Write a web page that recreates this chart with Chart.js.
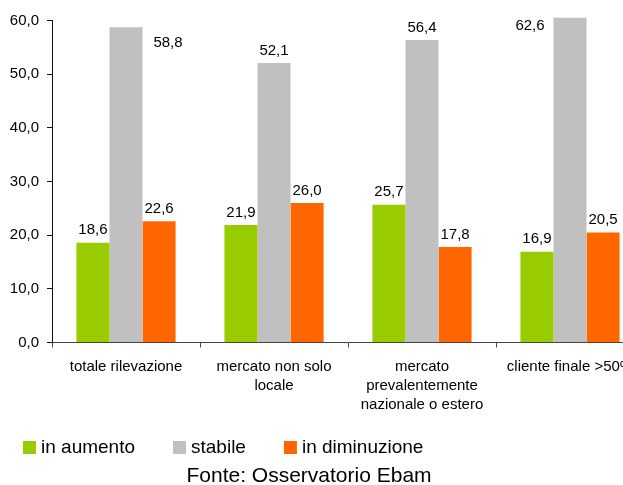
<!DOCTYPE html>
<html>
<head>
<meta charset="utf-8">
<script src="https://cdn.jsdelivr.net/npm/chart.js@4"></script>
<style>
  html, body { margin: 0; padding: 0; background: #fff; overflow: hidden; }
  #wrap { width: 623px; height: 485px; overflow: hidden; position: relative; }
  canvas { position: absolute; left: 0; top: 0; }
</style>
</head>
<body>
<div id="wrap"><canvas id="c" width="700" height="485" style="width:700px;height:485px"></canvas></div>
<script>
// Categories (multi-line labels) and series values (%)
const categories = [
  ['totale rilevazione'],
  ['mercato non solo', 'locale'],
  ['mercato', 'prevalentemente', 'nazionale o estero'],
  ['cliente finale >50%']
];
const inAumento = [18.6, 21.9, 25.7, 16.9];
const stabile = [58.8, 52.1, 56.4, 62.6];
const inDiminuzione = [22.6, 26.0, 17.8, 20.5];
const seriesNames = ['in aumento', 'stabile', 'in diminuzione'];
const yTicks = [0, 10, 20, 30, 40, 50, 60];
const sourceNote = 'Fonte: Osservatorio Ebam';

const FONT = "'Liberation Sans', Arial, Helvetica, sans-serif";
const fmt = v => v.toFixed(1).replace('.', ',');

// Value labels: above each bar, or beside it where the bar reaches the top
const valueLabels = {
  id: 'valueLabels',
  afterDatasetsDraw(chart, args, opts) {
    const ctx = chart.ctx;
    ctx.save();
    ctx.font = '15px ' + FONT;
    ctx.fillStyle = '#000';
    ctx.textAlign = 'center';
    ctx.textBaseline = 'alphabetic';
    chart.data.datasets.forEach((ds, di) => {
      const meta = chart.getDatasetMeta(di);
      meta.data.forEach((bar, i) => {
        const side = (opts.side[di] || {})[i];
        let x = bar.x, y = bar.y - 8.5;
        if (side) { x = bar.x + side.dx; y = bar.y + side.dy; }
        ctx.fillText(fmt(ds.data[i]), x, y);
      });
    });
    ctx.restore();
  }
};

// Legend row and source note below the axis
const footer = {
  id: 'footer',
  afterDraw(chart) {
    const ctx = chart.ctx;
    ctx.save();
    ctx.font = '19px ' + FONT;
    ctx.textBaseline = 'alphabetic';
    let x = 23;
    chart.data.datasets.forEach(ds => {
      ctx.fillStyle = ds.backgroundColor;
      ctx.fillRect(x, 441, 13, 13);
      ctx.fillStyle = '#000';
      ctx.fillText(ds.label, x + 18, 453);
      x += 18 + ctx.measureText(ds.label).width + 38;
    });
    ctx.font = '21px ' + FONT;
    ctx.textAlign = 'center';
    ctx.fillText(sourceNote, 309, 482);
    ctx.restore();
  }
};

const barClip = { left: false, right: false, top: 3, bottom: 0 };

new Chart(document.getElementById('c'), {
  type: 'bar',
  data: {
    labels: categories,
    datasets: [
      { label: seriesNames[0], data: inAumento, backgroundColor: '#99CC00', clip: barClip },
      { label: seriesNames[1], data: stabile, backgroundColor: '#C0C0C0', clip: barClip },
      { label: seriesNames[2], data: inDiminuzione, backgroundColor: '#FF6600', clip: barClip }
    ]
  },
  options: {
    responsive: false,
    devicePixelRatio: 1,
    animation: false,
    events: [],
    categoryPercentage: 0.67,
    barPercentage: 1.0,
    layout: { padding: { left: 0, right: 56, top: 20.7, bottom: 0 } },
    plugins: {
      legend: { display: false },
      tooltip: { enabled: false },
      valueLabels: { side: { 1: { 0: { dx: 42, dy: 20 }, 3: { dx: -40, dy: 23 } } } }
    },
    scales: {
      x: {
        afterFit(scale) { scale.height = 142.5; },
        grid: { offset: true, drawOnChartArea: false, drawTicks: true, tickLength: 5, color: '#444' },
        border: { display: true, color: '#444', width: 1 },
        ticks: {
          font: { family: FONT, size: 15, lineHeight: 1.25 },
          color: '#000',
          padding: 10,
          maxRotation: 0,
          minRotation: 0,
          autoSkip: false
        }
      },
      y: {
        min: 0,
        max: 60,
        afterFit(scale) { scale.width = 52; },
        afterBuildTicks(scale) { scale.ticks = yTicks.map(v => ({ value: v })); },
        grid: { drawOnChartArea: false, drawTicks: true, tickLength: 5, color: '#111' },
        border: { display: true, color: '#111', width: 1 },
        ticks: {
          font: { family: FONT, size: 15 },
          color: '#000',
          padding: 8,
          callback: v => fmt(v)
        }
      }
    }
  },
  plugins: [valueLabels, footer]
});
</script>
</body>
</html>
